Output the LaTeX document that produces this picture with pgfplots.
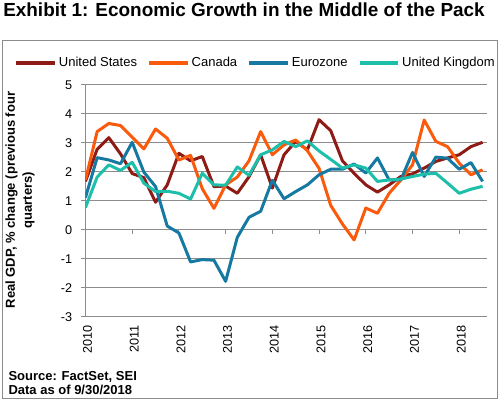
\documentclass[border=0pt]{standalone}
\usepackage{fontspec}
\setmainfont{Liberation Sans}
\usepackage{pgfplots}
\pgfplotsset{compat=1.18}
\definecolor{cUS}{HTML}{8E1B16}
\definecolor{cCA}{HTML}{FA5A0C}
\definecolor{cEU}{HTML}{1679A1}
\definecolor{cUK}{HTML}{1EBFAA}
\definecolor{gridgray}{HTML}{8C8C8C}

\pgfplotstableread{
q US CA EU UK
0 1.67 1.72 1.11 0.77
1 2.78 3.39 2.49 1.82
2 3.18 3.67 2.41 2.24
3 2.62 3.60 2.28 2.05
4 1.94 3.20 3.02 2.33
5 1.80 2.79 1.99 1.61
6 0.95 3.48 1.49 1.32
7 1.55 3.16 0.13 1.33
8 2.64 2.41 -0.11 1.26
9 2.38 2.57 -1.11 1.06
10 2.53 1.42 -1.03 1.95
11 1.49 0.74 -1.05 1.55
12 1.51 1.55 -1.78 1.54
13 1.26 1.82 -0.26 2.17
14 1.83 2.38 0.43 1.88
15 2.59 3.39 0.64 2.59
16 1.44 2.59 1.71 2.76
17 2.59 2.93 1.07 3.05
18 3.05 3.10 1.32 2.87
19 2.76 2.73 1.55 3.07
20 3.80 2.12 1.90 2.72
21 3.42 0.84 2.09 2.43
22 2.38 0.20 2.09 2.13
23 1.95 -0.35 2.27 2.24
24 1.55 0.75 1.96 2.13
25 1.30 0.57 2.48 1.67
26 1.55 1.26 1.72 1.72
27 1.84 1.72 1.72 1.75
28 1.93 2.24 2.67 1.84
29 2.13 3.79 1.84 1.92
30 2.36 3.05 2.51 1.95
31 2.48 2.87 2.47 1.61
32 2.59 2.30 2.09 1.26
33 2.87 1.90 2.32 1.40
34 3.02 2.07 1.67 1.50
}\gdp

\begin{document}
\begin{tikzpicture}
\useasboundingbox (0,0) rectangle (376.5pt,-303pt);
\node[anchor=base west, font=\bfseries\fontsize{14.2}{16}\selectfont, inner sep=0pt] at (2.25pt,-12.5pt) {Exhibit 1: Economic Growth in the Middle of the Pack};
\draw[gridgray, line width=0.75pt] (1.5pt,-30pt) rectangle (373pt,-298.7pt);
\node[rotate=90, align=center, font=\bfseries\fontsize{9.75}{12.75}\selectfont, inner sep=0pt] at (15pt,-150pt) {Real GDP, \% change (previous four\\quarters)};
\node[anchor=base west, font=\bfseries\fontsize{9.75}{11}\selectfont, inner sep=0pt] at (6.2pt,-285pt) {Source: FactSet, SEI};
\node[anchor=base west, font=\bfseries\fontsize{9.75}{11}\selectfont, inner sep=0pt] at (6.2pt,-296.2pt) {Data as of 9/30/2018};
\begin{axis}[
  at={(64.1pt,-237.5pt)}, anchor=south west,
  scale only axis, width=300.9pt, height=173.8pt,
  xmin=0, xmax=34.35, ymin=-3, ymax=5,
  ytick={-3,-2,-1,0,1,2,3,4,5},
  xtick={0,4,8,12,16,20,24,28,32},
  xticklabels={2010,2011,2012,2013,2014,2015,2016,2017,2018},
  axis lines*=left,
  x axis line style={draw=none},
  y axis line style={gridgray, line width=0.75pt},
  xtick style={draw=none},
  ytick style={gridgray, line width=0.75pt},
  tick align=outside, major tick length=3pt,
  ymajorgrids, grid style={gridgray, line width=0.75pt},
  /pgf/number format/assume math mode=true,
  tick label style={font=\fontsize{9.5}{11}\selectfont, black},
  yticklabel style={xshift=-3.5pt},
  xticklabel style={rotate=90, anchor=east, yshift=-1.5pt},
  legend style={draw=none, fill=none, at={(-0.178,1.095)}, anchor=west,
    font=\fontsize{9.75}{11}\selectfont, inner sep=0pt,
    nodes={inner sep=1.5pt},
    /tikz/every even column/.append style={column sep=6pt}},
  legend columns=4,
  legend image code/.code={\draw[#1, line width=3pt] (0pt,0pt) -- (29pt,0pt);},
  every axis plot/.append style={line width=2.25pt, line join=round, mark=none},
]
\draw[gridgray, line width=0.75pt] (axis cs:0,0) -- (axis cs:34.35,0);
\draw[gridgray, line width=0.75pt] (axis cs:4,0) -- ++(0pt,-3pt);
\draw[gridgray, line width=0.75pt] (axis cs:8,0) -- ++(0pt,-3pt);
\draw[gridgray, line width=0.75pt] (axis cs:12,0) -- ++(0pt,-3pt);
\draw[gridgray, line width=0.75pt] (axis cs:16,0) -- ++(0pt,-3pt);
\draw[gridgray, line width=0.75pt] (axis cs:20,0) -- ++(0pt,-3pt);
\draw[gridgray, line width=0.75pt] (axis cs:24,0) -- ++(0pt,-3pt);
\draw[gridgray, line width=0.75pt] (axis cs:28,0) -- ++(0pt,-3pt);
\draw[gridgray, line width=0.75pt] (axis cs:32,0) -- ++(0pt,-3pt);
\addplot[cUS] table[x=q, y=US] {\gdp};
\addlegendentry{United States}
\addplot[cCA] table[x=q, y=CA] {\gdp};
\addlegendentry{Canada}
\addplot[cEU] table[x=q, y=EU] {\gdp};
\addlegendentry{Eurozone}
\addplot[cUK] table[x=q, y=UK] {\gdp};
\addlegendentry{United Kingdom}
\end{axis}
\end{tikzpicture}
\end{document}
